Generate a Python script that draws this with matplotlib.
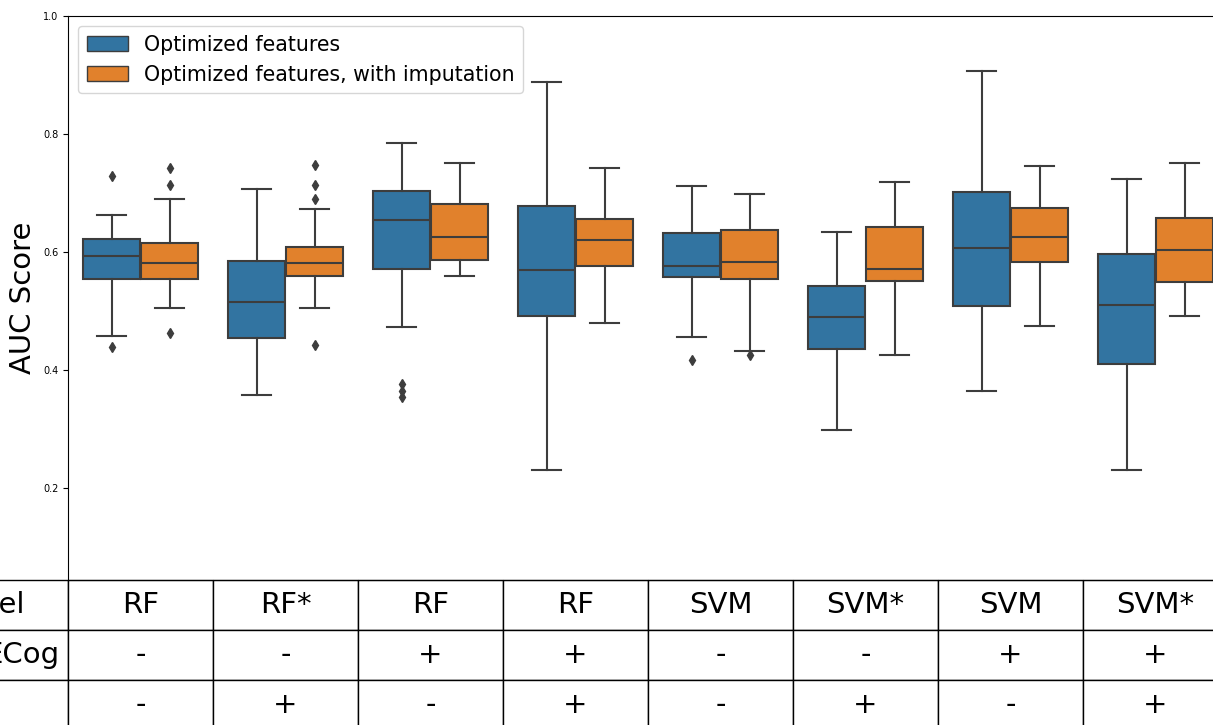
import matplotlib
matplotlib.use("Agg")
from matplotlib import pyplot as plt
from matplotlib.patches import Patch


# Table rows under the plot
MODELS = ["RF", "RF*", "RF", "RF", "SVM", "SVM*", "SVM", "SVM*"]
ECOG = ["-", "-", "+", "+", "-", "-", "+", "+"]
THIRD = ["-", "+", "-", "+", "-", "+", "-", "+"]
ROW_LABELS = ["Model", "ECog"]

SERIES = ["Optimized features", "Optimized features, with imputation"]
COLORS = ["#3274a1", "#e1812c"]

# Box statistics, optimized features
opt_whislo = [0.458, 0.358, 0.473, 0.231, 0.456, 0.298, 0.364, 0.231]
opt_q1 = [0.554, 0.455, 0.572, 0.492, 0.558, 0.435, 0.509, 0.410]
opt_med = [0.594, 0.516, 0.654, 0.570, 0.576, 0.490, 0.607, 0.510]
opt_q3 = [0.622, 0.584, 0.703, 0.678, 0.632, 0.542, 0.701, 0.597]
opt_whishi = [0.663, 0.707, 0.785, 0.888, 0.712, 0.634, 0.906, 0.723]
opt_fliers = [[0.728, 0.439], [], [0.376, 0.365, 0.354], [], [0.417], [], [], []]

# Box statistics, optimized features with imputation
imp_whislo = [0.505, 0.505, 0.560, 0.480, 0.432, 0.426, 0.475, 0.492]
imp_q1 = [0.554, 0.559, 0.586, 0.577, 0.555, 0.550, 0.583, 0.549]
imp_med = [0.581, 0.581, 0.626, 0.620, 0.583, 0.571, 0.626, 0.603]
imp_q3 = [0.615, 0.609, 0.681, 0.656, 0.637, 0.642, 0.675, 0.658]
imp_whishi = [0.690, 0.673, 0.751, 0.742, 0.698, 0.719, 0.746, 0.750]
imp_fliers = [[0.742, 0.714, 0.463], [0.747, 0.714, 0.690, 0.442], [], [], [0.425], [], [], []]


def makeStats(whislo, q1, med, q3, whishi, fliers):
    stats = []
    for i in range(len(med)):
        stats.append({"whislo": whislo[i], "q1": q1[i], "med": med[i],
                      "q3": q3[i], "whishi": whishi[i], "fliers": fliers[i]})
    return stats


allStats = [
    makeStats(opt_whislo, opt_q1, opt_med, opt_q3, opt_whishi, opt_fliers),
    makeStats(imp_whislo, imp_q1, imp_med, imp_q3, imp_whishi, imp_fliers),
]

W, H = 1213, 725
fig = plt.figure(figsize=(W / 100, H / 100), dpi=100)
# axes run past the right edge, like the cropped original
ax = fig.add_axes([68 / W, 1 - 580 / H, 1160 / W, 564 / H])

gray = "#3d3d3d"
offsets = [-0.2, 0.2]
for k in range(2):
    pos = [i + offsets[k] for i in range(len(MODELS))]
    ax.bxp(allStats[k], positions=pos, widths=0.39, capwidths=0.2,
           patch_artist=True, manage_ticks=False,
           boxprops=dict(facecolor=COLORS[k], edgecolor=gray, linewidth=1.5),
           medianprops=dict(color=gray, linewidth=1.5),
           whiskerprops=dict(color=gray, linewidth=1.5),
           capprops=dict(color=gray, linewidth=1.5),
           flierprops=dict(marker="d", markerfacecolor=gray, markeredgecolor=gray,
                           markersize=5))

ax.set_xlim(-0.5, len(MODELS) - 0.5)
ax.set_ylim(0.044, 1.0)
ax.set_xticks([])
ax.set_yticks([0.2, 0.4, 0.6, 0.8, 1.0])
ax.tick_params(axis="y", labelsize=7)
ax.set_ylabel("AUC Score", fontsize=21)
ax.yaxis.set_label_coords(-0.027, 0.5)

handles = [Patch(facecolor=COLORS[k], edgecolor=gray, linewidth=1, label=SERIES[k])
           for k in range(2)]
ax.legend(handles=handles, loc="upper left", fontsize=14.8)

# table under the axes, with an empty row label column off to the left
labelW = 0.14
tableH = 150 / 564
cells = [[""] + MODELS, [""] + ECOG, [""] + THIRD]
table = ax.table(cellText=cells, cellLoc="center",
                 colWidths=[labelW] + [1 / len(MODELS)] * len(MODELS),
                 bbox=[-labelW, -tableH, 1 + labelW, tableH])
table.auto_set_font_size(False)
table.set_fontsize(21)
for cell in table.get_celld().values():
    cell.set_linewidth(1)

fig.text(25 / W, 1 - 605 / H, ROW_LABELS[0], ha="right", va="center", fontsize=21)
fig.text(59 / W, 1 - 655 / H, ROW_LABELS[1], ha="right", va="center", fontsize=21)

fig.savefig("out.png", dpi=100)
